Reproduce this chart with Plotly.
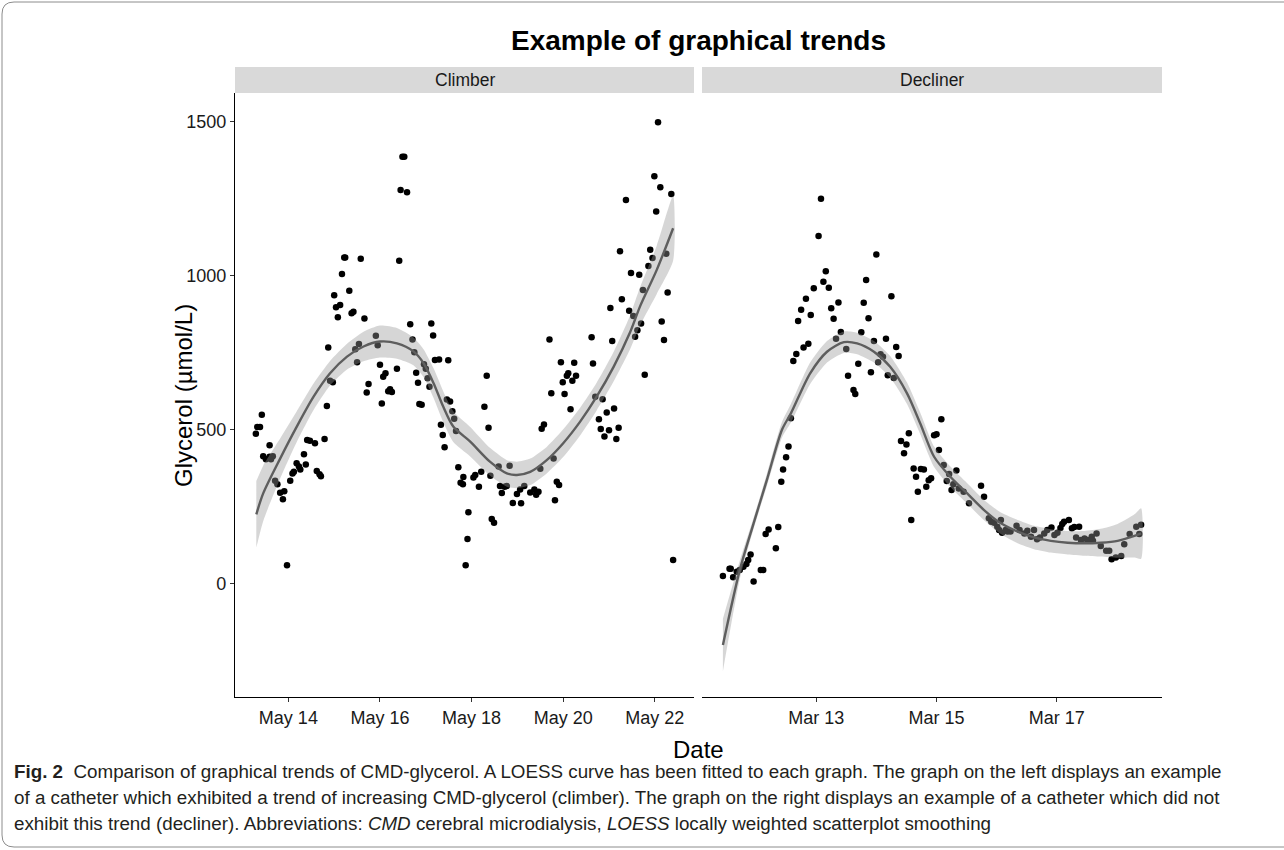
import numpy as np
import pandas as pd
import plotly.graph_objects as go

# ---------------- data ----------------
# Climber panel: time as fractional day of May, glycerol in umol/L
climber_day = [13.29, 13.32, 13.38, 13.42, 13.45, 13.51, 13.59, 13.59, 13.62, 13.66,
               13.71, 13.76, 13.82, 13.88, 13.91, 13.97, 14.04, 14.09, 14.12, 14.18,
               14.23, 14.26, 14.34, 14.38, 14.41, 14.47, 14.58, 14.62, 14.68, 14.71,
               14.79, 14.84, 14.87, 14.91, 14.97, 15.00, 15.04, 15.08, 15.13, 15.17,
               15.22, 15.24, 15.33, 15.38, 15.42, 15.46, 15.50, 15.54, 15.58, 15.66,
               15.71, 15.75, 15.91, 15.95, 16.00, 16.04, 16.07, 16.12, 16.18, 16.22,
               16.26, 16.37, 16.42, 16.45, 16.49, 16.53, 16.59, 16.66, 16.71, 16.75,
               16.79, 16.83, 16.86, 16.91, 16.96, 17.00, 17.04, 17.08, 17.12, 17.16,
               17.20, 17.29, 17.33, 17.37, 17.41, 17.46, 17.49, 17.53, 17.58, 17.62,
               17.66, 17.71, 17.76, 17.81, 17.82, 17.87, 17.91, 17.93, 18.04, 18.08,
               18.16, 18.21, 18.28, 18.33, 18.37, 18.41, 18.44, 18.49, 18.59, 18.62,
               18.66, 18.72, 18.77, 18.83, 18.90, 18.99, 19.06, 19.08, 19.15, 19.28,
               19.37, 19.41, 19.42, 19.46, 19.50, 19.53, 19.58, 19.70, 19.74, 19.79,
               19.82, 19.86, 19.91, 19.95, 19.99, 20.03, 20.08, 20.11, 20.16, 20.20,
               20.24, 20.28, 20.62, 20.65, 20.70, 20.78, 20.82, 20.86, 20.90, 20.95,
               21.00, 21.03, 21.07, 21.11, 21.16, 21.21, 21.24, 21.28, 21.37, 21.44,
               21.48, 21.53, 21.57, 21.62, 21.66, 21.70, 21.74, 21.78, 21.86, 21.90,
               21.95, 21.99, 22.03, 22.07, 22.12, 22.15, 22.20, 22.25, 22.28, 22.36,
               22.40]
climber_glycerol = [486, 508, 508, 547, 413, 403, 448, 411, 403, 413,
                    333, 322, 294, 273, 299, 59, 333, 357, 362, 390,
                    379, 370, 419, 386, 465, 463, 455, 365, 354, 348,
                    469, 576, 766, 658, 653, 935, 896, 864, 904, 1004,
                    1058, 1058, 950, 877, 882, 760, 718, 777, 1054, 860,
                    620, 647, 804, 773, 710, 584, 671, 682, 624, 630,
                    621, 697, 1047, 1277, 1385, 1385, 1270, 841, 792, 750,
                    684, 651, 582, 580, 711, 697, 666, 638, 844, 805,
                    725, 727, 515, 482, 442, 597, 724, 590, 559, 534,
                    495, 377, 327, 322, 345, 59, 144, 231, 344, 352,
                    314, 362, 573, 674, 505, 349, 209, 197, 379, 316,
                    293, 314, 316, 382, 261, 290, 305, 260, 316, 295,
                    305, 288, 295, 297, 372, 502, 516, 792, 617, 405,
                    270, 330, 319, 718, 653, 615, 674, 682, 565, 658,
                    716, 674, 799, 714, 606, 533, 501, 598, 477, 555,
                    497, 894, 787, 568, 469, 505, 1078, 922, 1245, 885,
                    1008, 868, 801, 822, 1002, 844, 952, 677, 1030, 1083,
                    1056, 1322, 1207, 1497, 1286, 850, 790, 1070, 944, 1264,
                    76]

# Decliner panel: time as fractional day of March
decliner_day = [11.45, 11.56, 11.58, 11.62, 11.68, 11.73, 11.79, 11.84, 11.87, 11.91,
                11.96, 12.08, 12.12, 12.16, 12.21, 12.33, 12.37, 12.42, 12.45, 12.50,
                12.54, 12.58, 12.62, 12.67, 12.70, 12.75, 12.79, 12.83, 12.87, 12.91,
                12.96, 13.04, 13.08, 13.12, 13.16, 13.21, 13.25, 13.29, 13.33, 13.37,
                13.41, 13.50, 13.53, 13.62, 13.65, 13.70, 13.75, 13.79, 13.83, 13.87,
                13.91, 13.96, 14.00, 14.03, 14.07, 14.11, 14.16, 14.19, 14.25, 14.29,
                14.33, 14.37, 14.41, 14.46, 14.50, 14.54, 14.58, 14.62, 14.66, 14.69,
                14.74, 14.79, 14.83, 14.87, 14.91, 14.96, 15.00, 15.04, 15.08, 15.12,
                15.17, 15.21, 15.25, 15.28, 15.33, 15.37, 15.45, 15.54, 15.74, 15.79,
                15.87, 15.91, 15.96, 16.01, 16.04, 16.07, 16.09, 16.15, 16.18, 16.23,
                16.33, 16.38, 16.46, 16.51, 16.57, 16.62, 16.67, 16.72, 16.79, 16.84,
                16.91, 16.96, 17.01, 17.06, 17.09, 17.12, 17.20, 17.25, 17.29, 17.32,
                17.37, 17.40, 17.46, 17.51, 17.58, 17.60, 17.66, 17.73, 17.82, 17.87,
                17.91, 17.98, 18.07, 18.12, 18.21, 18.32, 18.37, 18.40]
decliner_glycerol = [24, 47, 47, 20, 38, 43, 54, 63, 76, 94,
                     6, 43, 43, 160, 175, 114, 183, 330, 370, 409,
                     444, 536, 722, 745, 852, 888, 766, 924, 778, 871,
                     958, 1128, 1249, 979, 1013, 960, 893, 859, 794, 912,
                     816, 761, 674, 628, 615, 713, 815, 911, 985, 861,
                     685, 787, 1068, 718, 744, 736, 794, 676, 932, 667,
                     767, 738, 462, 422, 451, 487, 206, 373, 346, 297,
                     371, 370, 314, 335, 341, 481, 484, 433, 533, 384,
                     332, 355, 303, 322, 366, 308, 297, 260, 317, 281,
                     211, 200, 197, 184, 173, 206, 164, 173, 168, 168,
                     187, 173, 162, 171, 151, 173, 143, 149, 162, 173,
                     181, 157, 164, 180, 193, 200, 206, 179, 183, 149,
                     184, 141, 146, 141, 151, 138, 162, 121, 106, 106,
                     78, 84, 89, 127, 160, 184, 160, 190]

# LOESS curves as drawn (fit value and half-width of the confidence band)
climber_fit_day = [13.30, 13.45, 13.82, 14.18, 14.55, 14.91, 15.28, 15.64, 16.00, 16.37,
                   16.73, 16.95, 17.17, 17.38, 17.60, 17.97, 18.40, 18.77, 18.99, 19.28,
                   19.64, 20.00, 20.37, 20.73, 21.10, 21.46, 21.68, 22.04, 22.40]
climber_fit = [224, 292, 405, 508, 606, 682, 736, 769, 785, 779,
               753, 715, 650, 574, 509, 460, 395, 357, 352, 362,
               400, 455, 525, 606, 703, 815, 900, 1017, 1153]
climber_fit_hw = [108, 90, 65, 50, 43, 40, 42, 48, 52, 50,
                  45, 45, 48, 50, 50, 48, 45, 43, 43, 43,
                  43, 45, 45, 45, 48, 55, 62, 78, 105]

decliner_fit_day = [11.45, 11.73, 11.96, 12.18, 12.43, 12.58, 12.90, 13.18, 13.46, 13.68,
                    13.96, 14.23, 14.51, 14.73, 14.96, 15.23, 15.51, 15.79, 16.07, 16.35,
                    16.62, 16.90, 17.18, 17.46, 17.73, 18.01, 18.29, 18.40]
decliner_fit = [-200, 43, 195, 335, 498, 552, 682, 752, 783, 779,
                752, 703, 617, 519, 411, 346, 292, 238, 195, 168,
                149, 138, 132, 130, 132, 138, 154, 162]
decliner_fit_hw = [85, 30, 18, 20, 25, 30, 35, 35, 35, 35,
                   35, 35, 35, 35, 33, 33, 33, 33, 35, 38,
                   38, 38, 38, 40, 45, 55, 70, 82]

climber_tick_day = [14, 16, 18, 20, 22]
climber_tick_labels = ["May 14", "May 16", "May 18", "May 20", "May 22"]
decliner_tick_day = [13, 15, 17]
decliner_tick_labels = ["Mar 13", "Mar 15", "Mar 17"]
y_ticks = [0, 500, 1000, 1500]
panel_names = ["Climber", "Decliner"]


def to_dt(days, month):
    base = pd.Timestamp(2019, month, 1)
    return base + pd.to_timedelta(np.asarray(days, dtype=float) - 1.0, unit="D")


W, H = 1284, 850
def px(x):
    return x / W
def py(y):
    return 1 - y / H

FONT = "Liberation Sans, Arial, Helvetica, sans-serif"
POINT = "#000000"
BAND = "rgba(153,153,153,0.4)"
LINE = "#5e5e5e"

fig = go.Figure()

panels = [
    (climber_day, climber_glycerol, climber_fit_day, climber_fit, climber_fit_hw, 5, "x", "y",
     climber_tick_day, climber_tick_labels),
    (decliner_day, decliner_glycerol, decliner_fit_day, decliner_fit, decliner_fit_hw, 3, "x2", "y2",
     decliner_tick_day, decliner_tick_labels),
]

x_ranges = []
for d, g, fd, fv, fh, month, xa, ya, td, tl in panels:
    xd = to_dt(d, month)
    fig.add_trace(go.Scatter(x=xd, y=g, mode="markers", xaxis=xa, yaxis=ya,
                             marker=dict(size=6.5, color=POINT), showlegend=False,
                             hoverinfo="skip"))
    fdt = to_dt(fd, month)
    up = np.asarray(fv) + np.asarray(fh)
    lo = np.asarray(fv) - np.asarray(fh)
    fig.add_trace(go.Scatter(x=list(fdt) + list(fdt[::-1]), y=list(up) + list(lo[::-1]),
                             mode="lines", fill="toself", fillcolor=BAND,
                             line=dict(width=0, color=BAND, shape="spline", smoothing=0.6),
                             xaxis=xa, yaxis=ya, showlegend=False, hoverinfo="skip"))
    fig.add_trace(go.Scatter(x=fdt, y=fv, mode="lines",
                             line=dict(color=LINE, width=2.4, shape="spline", smoothing=0.8),
                             xaxis=xa, yaxis=ya, showlegend=False, hoverinfo="skip"))
    lo_d, hi_d = min(d), max(d)
    span = hi_d - lo_d
    x_ranges.append((to_dt([lo_d - 0.05 * span], month)[0], to_dt([hi_d + 0.05 * span], month)[0],
                     to_dt(td, month), tl))

y_range = [-369, 1592]
ydom = [py(697), py(93)]

axis_common = dict(showgrid=False, zeroline=False, showline=True, linecolor="#000000",
                   linewidth=1.1, ticks="outside", ticklen=4, tickwidth=1.1, tickcolor="#333333",
                   tickfont=dict(family=FONT, size=18, color="#1a1a1a"))

fig.update_layout(
    width=W, height=H, margin=dict(l=0, r=0, t=0, b=0),
    paper_bgcolor="white", plot_bgcolor="white",
    xaxis=dict(domain=[px(235), px(694)], anchor="y", type="date",
               range=[x_ranges[0][0], x_ranges[0][1]],
               tickvals=list(x_ranges[0][2]), ticktext=x_ranges[0][3], **axis_common),
    xaxis2=dict(domain=[px(702), px(1162)], anchor="y2", type="date",
                range=[x_ranges[1][0], x_ranges[1][1]],
                tickvals=list(x_ranges[1][2]), ticktext=x_ranges[1][3], **axis_common),
    yaxis=dict(domain=ydom, anchor="x", range=y_range, tickvals=y_ticks,
               ticktext=[str(v) for v in y_ticks], **axis_common),
    yaxis2=dict(domain=ydom, anchor="x2", range=y_range, visible=False),
    font=dict(family=FONT),
)

# facet strips
for (x0, x1), name in zip([(235, 694), (702, 1162)], panel_names):
    fig.add_shape(type="rect", xref="paper", yref="paper", x0=px(x0), x1=px(x1),
                  y0=py(93), y1=py(67), fillcolor="#D9D9D9", line=dict(width=0), layer="below")
    fig.add_annotation(xref="paper", yref="paper", x=px((x0 + x1) / 2), y=py(80),
                       text=name, showarrow=False, xanchor="center", yanchor="middle",
                       font=dict(family=FONT, size=17.5, color="#1a1a1a"))

# title and axis titles
fig.add_annotation(xref="paper", yref="paper", x=px(698), y=py(40),
                   text="<b>Example of graphical trends</b>", showarrow=False,
                   xanchor="center", yanchor="middle",
                   font=dict(family=FONT, size=28, color="#000000"))
fig.add_annotation(xref="paper", yref="paper", x=px(183), y=py(395),
                   text="Glycerol (µmol/L)", showarrow=False, textangle=-90,
                   xanchor="center", yanchor="middle",
                   font=dict(family=FONT, size=24, color="#000000"))
fig.add_annotation(xref="paper", yref="paper", x=px(698), y=py(749),
                   text="Date", showarrow=False, xanchor="center", yanchor="middle",
                   font=dict(family=FONT, size=24, color="#000000"))

# caption
caption_lines = [
    "<b>Fig. 2</b>  Comparison of graphical trends of CMD-glycerol. A LOESS curve has been fitted to each graph. The graph on the left displays an example",
    "of a catheter which exhibited a trend of increasing CMD-glycerol (climber). The graph on the right displays an example of a catheter which did not",
    "exhibit this trend (decliner). Abbreviations: <i>CMD</i> cerebral microdialysis, <i>LOESS</i> locally weighted scatterplot smoothing",
]
for i, line in enumerate(caption_lines):
    fig.add_annotation(xref="paper", yref="paper", x=px(12), y=py(771 + 26 * i),
                       text=line, showarrow=False, xanchor="left", yanchor="middle",
                       font=dict(family=FONT, size=18.8, color="#231f20"))

# rounded frame
r = 12
x0, y0, x1, y1 = 2, 2, 1300, 847
path = (f"M {px(x0 + r)} {py(y0)} L {px(x1)} {py(y0)} "
        f"M {px(x0 + r)} {py(y0)} Q {px(x0)} {py(y0)} {px(x0)} {py(y0 + r)} "
        f"L {px(x0)} {py(y1 - r)} Q {px(x0)} {py(y1)} {px(x0 + r)} {py(y1)} L {px(x1)} {py(y1)}")
fig.add_shape(type="path", xref="paper", yref="paper", path=path,
              line=dict(color="#8c8c8c", width=1))

# remove the page's default body margin so the figure sits at the window origin
fig.write_html("out.html", config={"displayModeBar": False},
               post_script="document.body.style.margin='0px';")
